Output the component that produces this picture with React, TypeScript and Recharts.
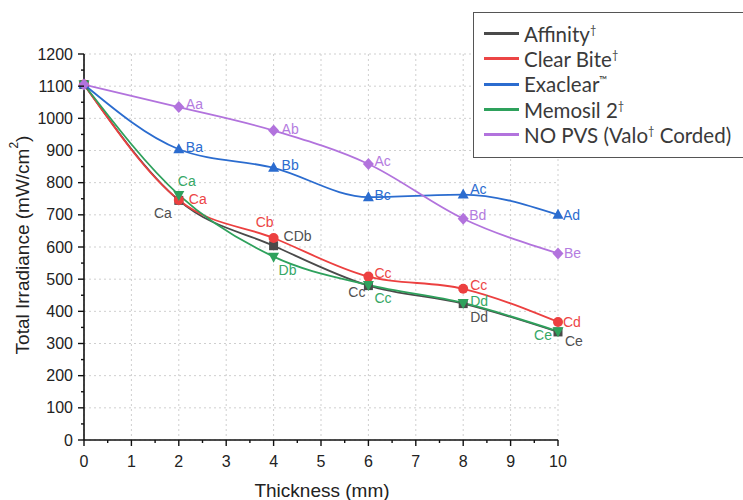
import { CartesianGrid, LabelList, Line, LineChart, XAxis, YAxis } from "recharts";

const thickness = [0, 2, 4, 6, 8, 10];
const affinity = [1105, 745, 604, 480, 424, 336];
const clearBite = [1105, 746, 628, 508, 470, 367];
const exaclear = [1105, 904, 846, 755, 763, 700];
const memosil = [1105, 762, 570, 482, 426, 338];
const noPvs = [1105, 1035, 962, 858, 688, 580];

const affinityLabels = ["", "Ca", "CDb", "Cc", "Dd", "Ce"];
const clearBiteLabels = ["", "Ca", "Cb", "Cc", "Cc", "Cd"];
const exaclearLabels = ["", "Ba", "Bb", "Bc", "Ac", "Ad"];
const memosilLabels = ["", "Ca", "Db", "Cc", "Dd", "Ce"];
const noPvsLabels = ["", "Aa", "Ab", "Ac", "Bd", "Be"];

const xMajorTicks = [0, 1, 2, 3, 4, 5, 6, 7, 8, 9, 10];
const yMajorTicks = [0, 100, 200, 300, 400, 500, 600, 700, 800, 900, 1000, 1100, 1200];

const xTicks = [...xMajorTicks, ...xMajorTicks.slice(1).map((t) => t - 0.5)].sort((a, b) => a - b);
const yTicks = [...yMajorTicks, ...yMajorTicks.slice(1).map((t) => t - 50)].sort((a, b) => a - b);

const rows = thickness.map((t, i) => ({
  t,
  affinity: affinity[i],
  clearBite: clearBite[i],
  exaclear: exaclear[i],
  memosil: memosil[i],
  noPvs: noPvs[i],
}));

type Shape = "square" | "circle" | "triUp" | "triDown" | "diamond";
type Anchor = "start" | "middle" | "end";

// per-point label placement: [dx, dy, anchor]
const series = [
  {
    key: "affinity",
    color: "#4a4a4a",
    labelColor: "#505050",
    shape: "square" as Shape,
    labels: affinityLabels,
    place: [null, [-7, 13, "end"], [10, -10, "start"], [-3, 6, "end"], [7, 13, "start"], [7, 9, "start"]],
  },
  {
    key: "clearBite",
    color: "#ec4040",
    labelColor: "#ec4545",
    shape: "circle" as Shape,
    labels: clearBiteLabels,
    place: [null, [10, -1, "start"], [-9, -16, "middle"], [6, -4, "start"], [7, -4, "start"], [5, 0, "start"]],
  },
  {
    key: "exaclear",
    color: "#2b6ccf",
    labelColor: "#2b6ccf",
    shape: "triUp" as Shape,
    labels: exaclearLabels,
    place: [null, [7, -2, "start"], [8, -3, "start"], [6, -2, "start"], [7, -6, "start"], [5, 0, "start"]],
  },
  {
    key: "memosil",
    color: "#2ea15c",
    labelColor: "#36a866",
    shape: "triDown" as Shape,
    labels: memosilLabels,
    place: [null, [-1, -14, "start"], [5, 13, "start"], [6, 13, "start"], [7, -2, "start"], [-6, 4, "end"]],
  },
  {
    key: "noPvs",
    color: "#b273dd",
    labelColor: "#b47ce0",
    shape: "diamond" as Shape,
    labels: noPvsLabels,
    place: [null, [7, -3, "start"], [8, -2, "start"], [6, -3, "start"], [6, -4, "start"], [6, 0, "start"]],
  },
];

const legendItems = [
  { color: "#4a4a4a", text: "Affinity", sup: "†", after: "" },
  { color: "#ec4545", text: "Clear Bite", sup: "†", after: "" },
  { color: "#2b6ccf", text: "Exaclear", sup: "™", after: "" },
  { color: "#2ea15c", text: "Memosil 2", sup: "†", after: "" },
  { color: "#b273dd", text: "NO PVS (Valo", sup: "†", after: " Corded)" },
];

const axisFont = "Arial, 'Liberation Sans', Helvetica, sans-serif";

function makeDot(shape: Shape, color: string) {
  return (props: any) => {
    const { cx, cy, index } = props;
    if (cx == null || cy == null) return <g key={`d-${index}`} />;
    if (shape === "square")
      return <rect key={`d-${index}`} x={cx - 4.5} y={cy - 4.5} width={9} height={9} fill={color} />;
    if (shape === "circle") return <circle key={`d-${index}`} cx={cx} cy={cy} r={5} fill={color} />;
    if (shape === "triUp")
      return (
        <polygon key={`d-${index}`} points={`${cx},${cy - 6} ${cx - 5.5},${cy + 4} ${cx + 5.5},${cy + 4}`} fill={color} />
      );
    if (shape === "triDown")
      return (
        <polygon key={`d-${index}`} points={`${cx},${cy + 6} ${cx - 5.5},${cy - 4} ${cx + 5.5},${cy - 4}`} fill={color} />
      );
    return (
      <polygon
        key={`d-${index}`}
        points={`${cx},${cy - 6} ${cx + 5.5},${cy} ${cx},${cy + 6} ${cx - 5.5},${cy}`}
        fill={color}
      />
    );
  };
}

function makeLabel(s: (typeof series)[number]) {
  return (props: any) => {
    const { x, y, index } = props;
    const text = s.labels[index];
    const p = s.place[index] as [number, number, Anchor] | null;
    if (!text || !p) return null;
    return (
      <text
        key={`l-${index}`}
        x={x + p[0]}
        y={y + p[1]}
        textAnchor={p[2]}
        dominantBaseline="central"
        fill={s.labelColor}
        fontSize={14}
        fontFamily={axisFont}
      >
        {text}
      </text>
    );
  };
}

function XTick({ x, y, payload }: any) {
  const major = Number.isInteger(payload.value);
  return (
    <g>
      <line x1={x} x2={x} y1={y} y2={y + (major ? 6 : 3)} stroke="#111" strokeWidth={1.4} />
      {major && (
        <text x={x} y={y + 21} textAnchor="middle" dominantBaseline="central" fill="#222" fontSize={16} fontFamily={axisFont}>
          {payload.value}
        </text>
      )}
    </g>
  );
}

function YTick({ x, y, payload }: any) {
  const major = payload.value % 100 === 0;
  return (
    <g>
      <line x1={x} x2={x - (major ? 6 : 3)} y1={y} y2={y} stroke="#111" strokeWidth={1.4} />
      {major && (
        <text x={x - 11} y={y} textAnchor="end" dominantBaseline="central" fill="#222" fontSize={16} fontFamily={axisFont}>
          {payload.value}
        </text>
      )}
    </g>
  );
}

export default function App() {
  return (
    <div style={{ position: "absolute", left: 0, top: 0, width: 743, height: 500, overflow: "hidden", background: "#fff" }}>
      <LineChart width={743} height={500} data={rows} margin={{ top: 54, right: 185, bottom: 0, left: 24 }}>
        <CartesianGrid
          stroke="#cfcfcf"
          strokeDasharray="2 3"
          horizontalValues={yMajorTicks}
          verticalValues={xMajorTicks}
        />
        <XAxis
          dataKey="t"
          type="number"
          domain={[0, 10]}
          ticks={xTicks}
          interval={0}
          height={60}
          tickSize={0}
          tickMargin={0}
          tick={<XTick />}
          axisLine={{ stroke: "#111", strokeWidth: 1.6 }}
          label={{
            content: () => (
              <text x={322} y={490} textAnchor="middle" dominantBaseline="central" fill="#222" fontSize={19} fontFamily={axisFont}>
                Thickness (mm)
              </text>
            ),
          }}
        />
        <YAxis
          type="number"
          domain={[0, 1200]}
          ticks={yTicks}
          interval={0}
          width={60}
          tickSize={0}
          tickMargin={0}
          tick={<YTick />}
          axisLine={{ stroke: "#111", strokeWidth: 1.6 }}
          label={{
            content: () => (
              <text
                x={22}
                y={245}
                transform="rotate(-90 22 245)"
                textAnchor="middle"
                dominantBaseline="central"
                fill="#222"
                fontSize={19}
                fontFamily={axisFont}
              >
                Total Irradiance (mW/cm
                <tspan dy={-8} fontSize={12}>
                  2
                </tspan>
                <tspan dy={8}>)</tspan>
              </text>
            ),
          }}
        />
        {series.map((s) => (
          <Line
            key={s.key}
            dataKey={s.key}
            type="monotone"
            stroke={s.color}
            strokeWidth={1.8}
            dot={makeDot(s.shape, s.color)}
            activeDot={false}
            isAnimationActive={false}
          >
            <LabelList dataKey={s.key} content={makeLabel(s)} />
          </Line>
        ))}
      </LineChart>
      <div
        style={{
          position: "absolute",
          left: 473,
          top: 12,
          width: 290,
          height: 146,
          border: "1.5px solid #555",
          background: "#fff",
          fontFamily: "Lato, 'Open Sans', sans-serif",
          fontSize: 20.5,
          color: "#3a3a3a",
          paddingTop: 8,
          boxSizing: "border-box",
        }}
      >
        {legendItems.map((it) => (
          <div key={it.text} style={{ display: "flex", alignItems: "center", height: 25.3 }}>
            <div style={{ width: 35, height: 3, background: it.color, marginLeft: 10, marginRight: 5 }} />
            <span style={{ whiteSpace: "nowrap" }}>
              {it.text}
              <sup style={{ fontSize: 11, verticalAlign: "8px" }}>{it.sup}</sup>
              {it.after}
            </span>
          </div>
        ))}
      </div>
    </div>
  );
}
